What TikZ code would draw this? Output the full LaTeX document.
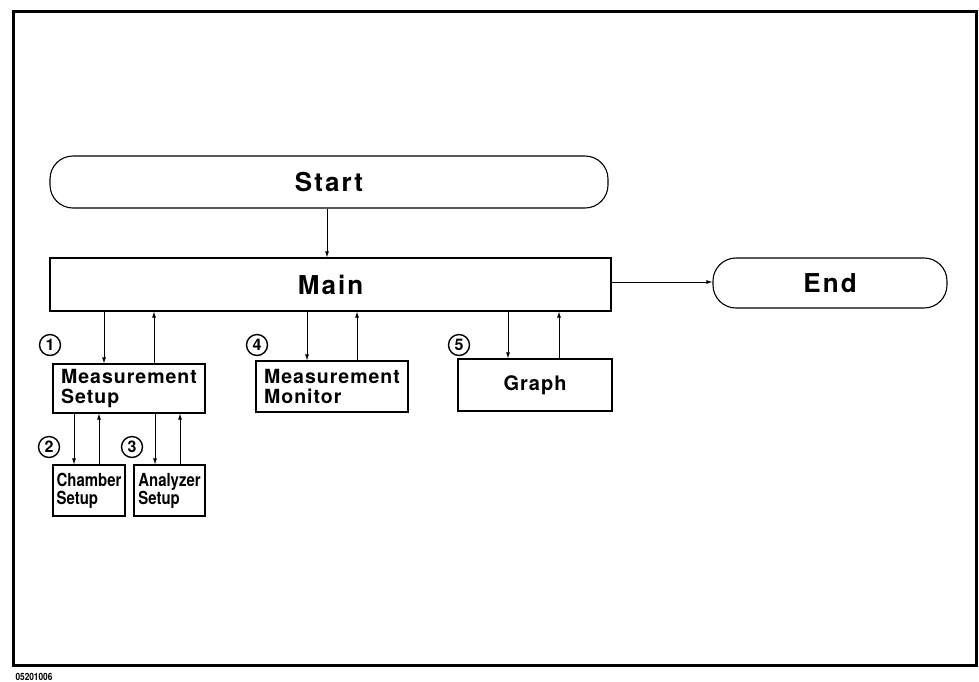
\documentclass[tikz,border=0pt]{standalone}
\usepackage{fontspec}
\usetikzlibrary{arrows.meta}
\setmainfont{TeX Gyre Heros}
\newfontfamily\hvs[LetterSpace=8]{TeX Gyre Heros}
\newfontfamily\hvm[LetterSpace=5]{TeX Gyre Heros}
\newfontfamily\hvn[FakeStretch=0.83]{TeX Gyre Heros}
\begin{document}
\begin{tikzpicture}[x=1pt,y=-1pt,
  box/.style={draw, line width=1.1pt, inner sep=0pt, align=left},
  term/.style={box, rounded corners=23pt},
  big/.style={font=\hvs\bfseries\fontsize{26}{30}\selectfont},
  mid/.style={font=\hvm\bfseries\fontsize{19.5}{20}\selectfont},
  nar/.style={font=\hvn\bfseries\fontsize{18}{18}\selectfont},
  num/.style={draw, circle, line width=1.4pt, inner sep=0pt, minimum size=21pt,
    font=\bfseries\fontsize{16}{16}\selectfont},
  arr/.style={-{Latex[length=6pt,width=4pt]}, line width=0.9pt}]
\useasboundingbox (0,0) rectangle (979,681);
\draw[line width=3pt] (13.5,11.5) rectangle (976.5,665.5);
\node[anchor=base west, font=\hvn\bfseries\fontsize{10}{10}\selectfont] (lbl) at (12,680) {05201006};

\node[term, big, minimum width=558pt, minimum height=52pt] (start) at (329,182) {Start};
\node[box, big, minimum width=561pt, minimum height=53pt] (main) at (330.5,284.5) {Main};
\node[term, big, minimum width=234pt, minimum height=50pt] (end) at (830,283) {End};

\node[box, mid, minimum width=152pt, minimum height=49pt] (ms) at (129,388.5) {Measurement\\Setup};
\node[box, mid, minimum width=152pt, minimum height=51pt] (mm) at (332,386.5) {Measurement\\Monitor};
\node[box, font=\hvm\bfseries\fontsize{20}{20}\selectfont, minimum width=154pt, minimum height=52pt] (gr) at (535,385) {Graph};
\node[box, nar, minimum width=72pt, minimum height=51pt] (ch) at (89,490.5) {Chamber\\Setup};
\node[box, nar, minimum width=71pt, minimum height=51pt] (an) at (169.5,490.5) {Analyzer\\Setup};

\node[num] (n1) at (50,345) {1};
\node[num] (n2) at (49,447) {2};
\node[num] (n3) at (132,447) {3};
\node[num] (n4) at (257,345) {4};
\node[num] (n5) at (459,345) {5};

\draw[arr] (327,0 |- start.south) -- (327,0 |- main.north);
\draw[arr] (main.east |- 0,282) -- (end.west |- 0,282);

\draw[arr] (104,0 |- main.south) -- (104,0 |- ms.north);
\draw[arr] (154,0 |- ms.north) -- (154,0 |- main.south);
\draw[arr] (307,0 |- main.south) -- (307,0 |- mm.north);
\draw[arr] (357,0 |- mm.north) -- (357,0 |- main.south);
\draw[arr] (508,0 |- main.south) -- (508,0 |- gr.north);
\draw[arr] (559,0 |- gr.north) -- (559,0 |- main.south);

\draw[arr] (74,0 |- ms.south) -- (74,0 |- ch.north);
\draw[arr] (99,0 |- ch.north) -- (99,0 |- ms.south);
\draw[arr] (155,0 |- ms.south) -- (155,0 |- an.north);
\draw[arr] (180,0 |- an.north) -- (180,0 |- ms.south);
\end{tikzpicture}
\end{document}
